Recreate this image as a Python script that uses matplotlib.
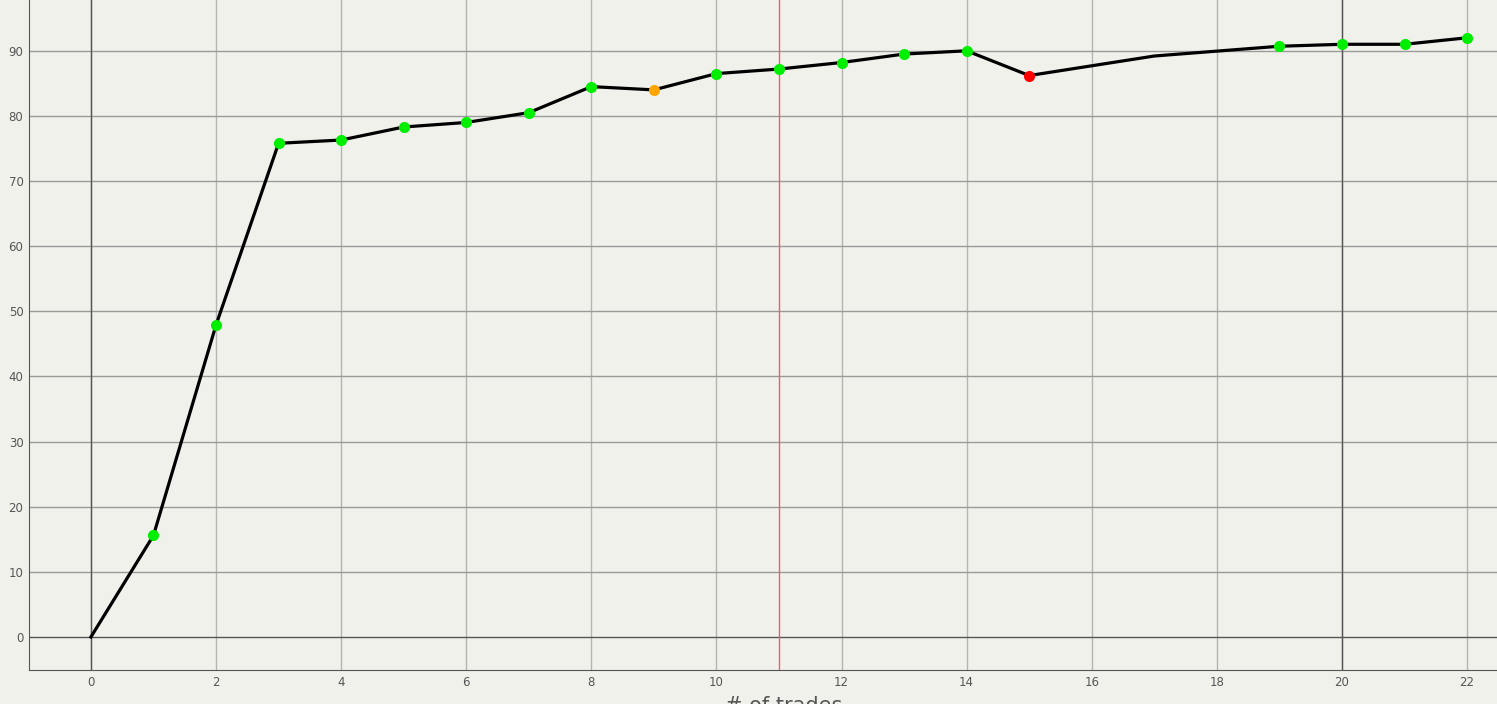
import matplotlib.pyplot as plt
import numpy as np

trades = [0, 1, 2, 3, 4, 5, 6, 7, 8, 9, 10, 11, 12, 13, 14, 15, 17, 19, 20, 21, 22]
score = [0, 15.6, 47.9, 75.8, 76.3, 78.3, 79.0, 80.5, 84.5, 84.0, 86.5, 87.2,
         88.2, 89.5, 90.0, 86.2, 89.2, 90.7, 91.0, 91.0, 92.0]
status = ['none', 'good', 'good', 'good', 'good', 'good', 'good', 'good', 'good',
          'warn', 'good', 'good', 'good', 'good', 'good', 'bad', 'none', 'good',
          'good', 'good', 'good']
colors = {'good': '#00ee00', 'warn': '#ffa500', 'bad': '#ff0000'}

bg = '#f1f1ec'
fig = plt.figure(figsize=(14.97, 7.04), dpi=100, facecolor=bg)
W, H = 1497, 704
ax = fig.add_axes([29 / W, 34 / H, (1539 - 29) / W, (704 - 34) / H])
ax.set_facecolor(bg)

# grid
for x in range(0, 24, 2):
    ax.axvline(x, color='#b4b4b0', lw=1, zorder=0)
for y in range(10, 100, 10):
    ax.axhline(y, color='#9a9a98', lw=1, zorder=0)
ax.axvline(0, color='#555555', lw=1, zorder=1)
ax.axvline(20, color='#555555', lw=1, zorder=1)
ax.axhline(0, color='#555555', lw=1, zorder=1)
ax.axvline(11, color='#e8606c', lw=1, zorder=1)

ax.plot(trades, score, color='black', lw=2.3, zorder=2)
for x, y, s in zip(trades, score, status):
    if s in colors:
        ax.plot(x, y, 'o', color=colors[s], ms=8, mec='none', zorder=3)

ax.set_xlim(-0.99, 23.15)
ax.set_ylim(-5.07, 97.8)
ax.set_xticks(range(0, 24, 2))
ax.set_yticks(range(0, 100, 10))
ax.tick_params(length=0, labelsize=8.5, colors='#555555', pad=4)
for side in ['top', 'right']:
    ax.spines[side].set_visible(False)
for side in ['left', 'bottom']:
    ax.spines[side].set_color('#555555')
ax.set_xlabel('# of trades', fontsize=15, color='#555555', labelpad=5)

fig.savefig('out.png', dpi=100, facecolor=bg)
